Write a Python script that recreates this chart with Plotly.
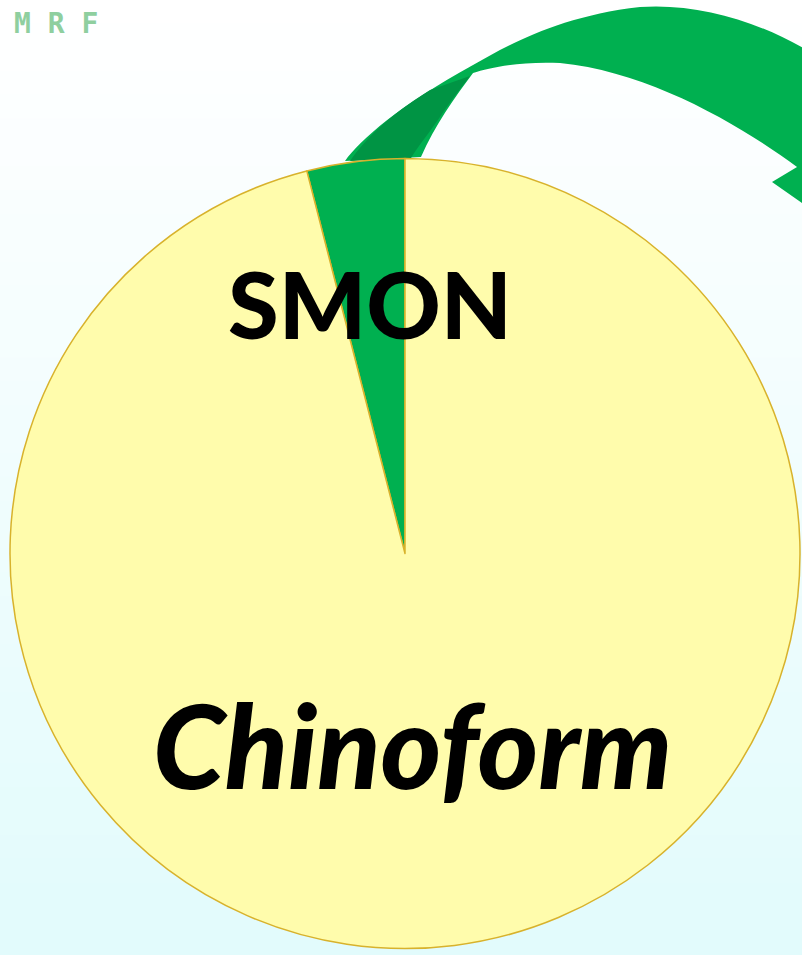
import plotly.graph_objects as go

# ---- data ----
labels = ["SMON", "Chinoform"]
values = [4, 96]
slice_colors = ["#00b050", "#fffcac"]
watermark = "M R F"

W, H = 802, 955


def P(x, y):
    """pixel -> paper coords"""
    return x / W, 1 - y / H


def path(cmds):
    out = []
    for c in cmds:
        if isinstance(c, str):
            out.append(c)
        else:
            x, y = P(*c)
            out.append(f"{x:.4f},{y:.4f}")
    return " ".join(out)


fig = go.Figure()

# SMON slice ends at 12 o'clock, sitting just left of it
start_angle = -360 * values[0] / sum(values)

fig.add_trace(go.Pie(
    labels=labels, values=values, sort=False,
    direction="clockwise", rotation=start_angle,
    marker=dict(colors=slice_colors, line=dict(color="#d8b22c", width=1.5)),
    textinfo="none", showlegend=False, hoverinfo="label+percent",
    domain=dict(x=[10 / W, 800 / W], y=[1 - 951 / H, 1 - 156 / H]),
))

shapes = []
# background gradient (white -> light cyan)
N = 40
top = (255, 255, 255)
bot = (226, 251, 252)
for i in range(N):
    t = i / (N - 1)
    c = tuple(round(top[k] + (bot[k] - top[k]) * t) for k in range(3))
    shapes.append(dict(type="rect", xref="paper", yref="paper",
                       x0=-0.01, x1=1.01, y0=1 - (i + 1) / N - 0.001, y1=1 - i / N + 0.001,
                       fillcolor=f"rgb{c}", line=dict(width=0), layer="below"))

# curved arrow
arrow = path([
    "M", (345, 161),
    "C", (360, 140), (400, 105), (473, 65),
    "C", (510, 44), (560, 16), (640, 7),
    "C", (700, 3), (760, 22), (812, 53),
    "L", (850, 140),
    "L", (816, 213),
    "L", (772, 182),
    "L", (797, 167),
    "C", (740, 125), (650, 72), (560, 63),
    "C", (520, 61), (490, 68), (473, 73),
    "C", (455, 97), (435, 125), (421, 157),
    "Z",
])
shapes.append(dict(type="path", xref="paper", yref="paper", path=arrow,
                   fillcolor="#00b050", line=dict(width=0), layer="below"))
# darker underside of the ribbon near its root
root = path([
    "M", (350, 161),
    "C", (365, 140), (385, 118), (430, 90),
    "L", (470, 76),
    "C", (458, 92), (447, 106), (440, 117),
    "C", (430, 132), (418, 146), (411, 158),
    "Z",
])
shapes.append(dict(type="path", xref="paper", yref="paper", path=root,
                   fillcolor="#009444", line=dict(width=0), layer="below"))

annotations = [
    dict(text="SMON", x=P(370, 303)[0], y=P(370, 303)[1],
         xref="paper", yref="paper", showarrow=False,
         xanchor="center", yanchor="middle",
         font=dict(family="Lato", size=92, color="black", weight=900)),
    dict(text="<i>Chinoform</i>", x=P(412, 744)[0], y=P(412, 744)[1],
         xref="paper", yref="paper", showarrow=False,
         xanchor="center", yanchor="middle",
         font=dict(family="Lato", size=116, color="black", weight=900)),
    dict(text="<b>" + watermark + "</b>", x=P(56, 23)[0], y=P(56, 23)[1],
         xref="paper", yref="paper", showarrow=False,
         xanchor="center", yanchor="middle",
         font=dict(family="DejaVu Sans Mono", size=28, color="#8fcf9f")),
]

fig.update_layout(
    width=W, height=H,
    margin=dict(l=0, r=0, t=0, b=0),
    paper_bgcolor="white", plot_bgcolor="white",
    shapes=shapes, annotations=annotations,
)

fig.write_html(
    "out.html",
    config={"displayModeBar": False},
    post_script="document.body.style.margin='0';document.body.style.overflow='hidden';",
)
